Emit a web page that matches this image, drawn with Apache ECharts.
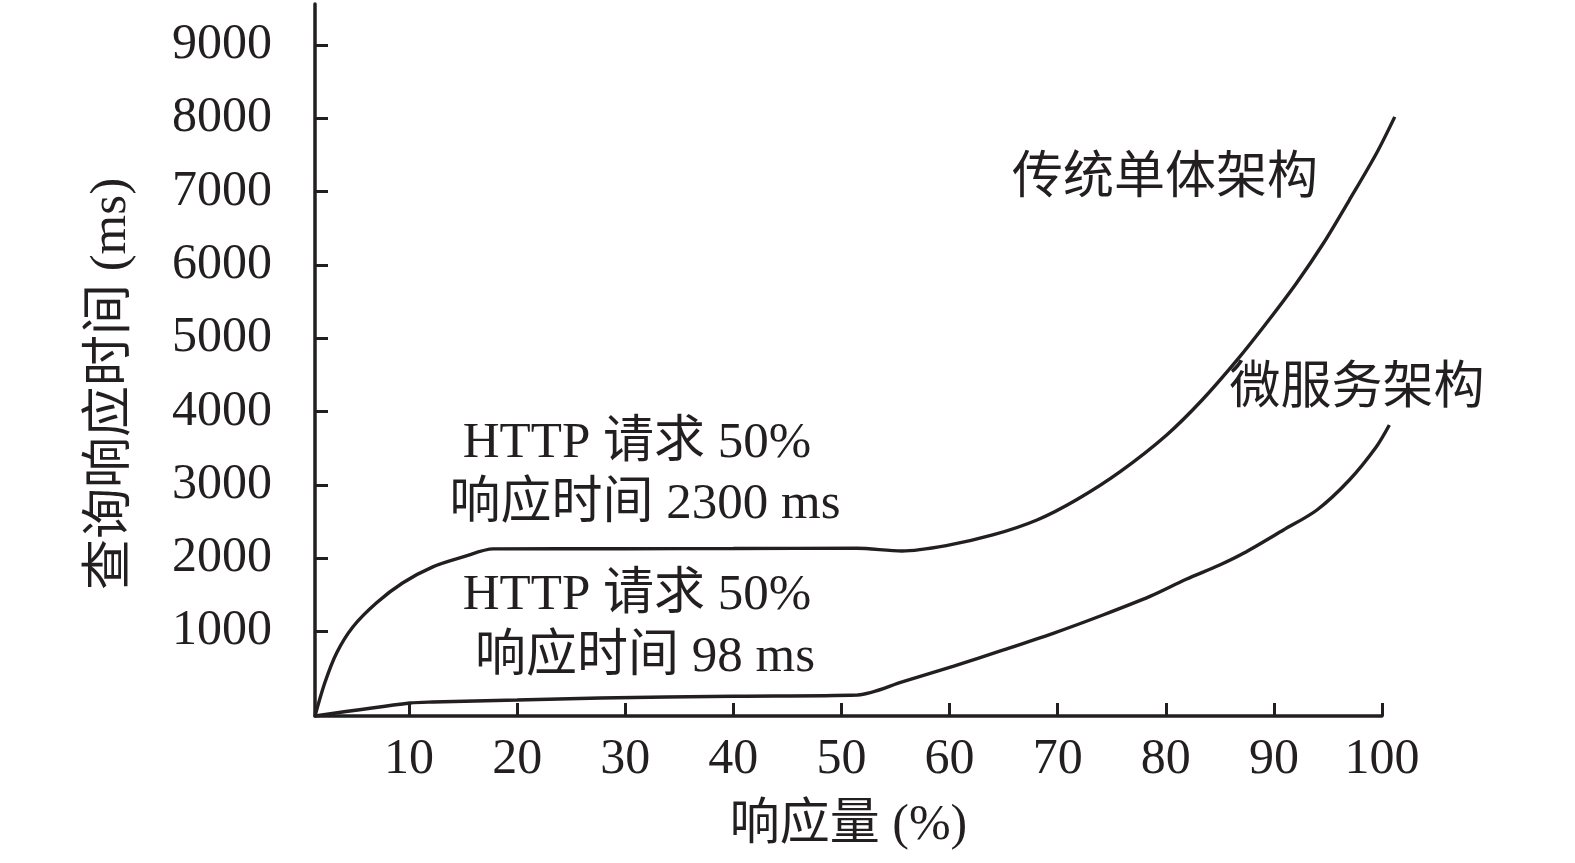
<!DOCTYPE html>
<html>
<head>
<meta charset="utf-8">
<script src="https://cdn.jsdelivr.net/npm/echarts@6/dist/echarts.min.js"></script>
<style>
  html, body { margin: 0; padding: 0; background: #fff; }
  #chart { width: 1575px; height: 863px; }
</style>
</head>
<body>
<div id="chart"></div>
<script>
// 响应量 (%) / 查询响应时间 (ms)
var monoX = [1.3, 2.2, 3.3, 4.8, 7.0, 9.4, 12.2, 15.0, 17.8, 30, 40, 51.4, 55.6, 59.7, 64.0, 68.1, 71.8, 75.8, 80.1, 83.4, 86.6, 89.3, 92.1, 94.6, 97.0, 99.5, 101.2];
var monoY = [-155, 295, 705, 1060, 1390, 1660, 1880, 2015, 2125, 2128, 2130, 2133, 2096, 2170, 2315, 2520, 2800, 3180, 3680, 4160, 4700, 5200, 5750, 6295, 6885, 7520, 8020];

var microX = [1.3, 10.1, 12.2, 20.0, 27.7, 40.0, 51.5, 55.7, 60.4, 65.0, 69.6, 74.2, 78.6, 81.9, 85.0, 87.2, 90.9, 94.0, 97.0, 99.5, 100.7];
var microY = [-155, 22, 36, 63, 91, 115, 132, 313, 527, 746, 973, 1223, 1480, 1710, 1905, 2065, 2383, 2656, 3065, 3519, 3815];

var xTicks = [10, 20, 30, 40, 50, 60, 70, 80, 90, 100];
var yTicks = [1000, 2000, 3000, 4000, 5000, 6000, 7000, 8000, 9000];

var seriesNames = ['传统单体架构', '微服务架构'];
var notes = ['HTTP 请求 50%', '响应时间 2300 ms', 'HTTP 请求 50%', '响应时间 98 ms'];

function zip(xs, ys) {
    return xs.map(function (x, i) { return [x, ys[i]]; });
}

var ink = '#231f20';
var font = "'Liberation Serif', 'Noto Sans CJK SC', serif";
var plain = function (v) { return String(v); };

var chart = echarts.init(document.getElementById('chart'));

function note(text, x, y) {
    return { type: 'text', x: x, y: y, style: { text: text, font: '51px ' + font, fill: ink, textAlign: 'center', textVerticalAlign: 'middle' } };
}

// 第二个 grid 与坐标轴同比例，只是 x 方向多出一点，让曲线能画过 100
var option = {
    backgroundColor: '#fff',
    animation: false,
    textStyle: { fontFamily: font, color: ink },
    grid: [
        { left: 315, right: 193, top: 4, bottom: 147, outerBoundsMode: 'none' },
        { left: 315, right: 177, top: 4, bottom: 147, outerBoundsMode: 'none' }
    ],
    xAxis: [
        {
            type: 'value',
            gridIndex: 0,
            min: 1.3,
            max: 100,
            name: '响应量 (%)',
            nameLocation: 'middle',
            nameGap: 85,
            nameTextStyle: { fontSize: 50, fontFamily: font, color: ink },
            splitLine: { show: false },
            axisLine: { onZero: false, lineStyle: { color: ink, width: 3.5 } },
            axisTick: { inside: true, length: 13, customValues: xTicks, lineStyle: { color: ink, width: 3 } },
            axisLabel: { customValues: xTicks, formatter: plain, fontSize: 50, fontFamily: font, color: ink, margin: 19 }
        },
        {
            type: 'value',
            gridIndex: 1,
            min: 1.3,
            max: 101.5,
            show: false
        }
    ],
    yAxis: [
        {
            type: 'value',
            gridIndex: 0,
            min: -155,
            max: 9560,
            name: '查询响应时间 (ms)',
            nameLocation: 'middle',
            nameRotate: 90,
            nameGap: 178,
            nameTextStyle: { fontSize: 51, fontFamily: font, color: ink, padding: [0, 48, 0, 0] },
            splitLine: { show: false },
            axisLine: { show: true, onZero: false, lineStyle: { color: ink, width: 3.5 } },
            axisTick: { show: true, inside: true, length: 13, customValues: yTicks, lineStyle: { color: ink, width: 3 } },
            axisLabel: { customValues: yTicks, formatter: plain, fontSize: 50, fontFamily: font, color: ink, margin: 43 }
        },
        {
            type: 'value',
            gridIndex: 1,
            min: -155,
            max: 9560,
            show: false
        }
    ],
    series: [
        {
            name: seriesNames[0],
            type: 'line',
            xAxisIndex: 1,
            yAxisIndex: 1,
            data: zip(monoX, monoY),
            showSymbol: false,
            clip: false,
            smooth: 0.3,
            lineStyle: { color: ink, width: 3.4 }
        },
        {
            name: seriesNames[1],
            type: 'line',
            xAxisIndex: 1,
            yAxisIndex: 1,
            data: zip(microX, microY),
            showSymbol: false,
            clip: false,
            smooth: 0.3,
            lineStyle: { color: ink, width: 3.4 }
        }
    ],
    graphic: [
        note(seriesNames[0], 1165, 180),
        note(seriesNames[1], 1357, 390),
        note(notes[0], 637, 444),
        note(notes[1], 645, 505),
        note(notes[2], 637, 596),
        note(notes[3], 645, 658)
    ]
};
chart.setOption(option);
</script>
</body>
</html>
